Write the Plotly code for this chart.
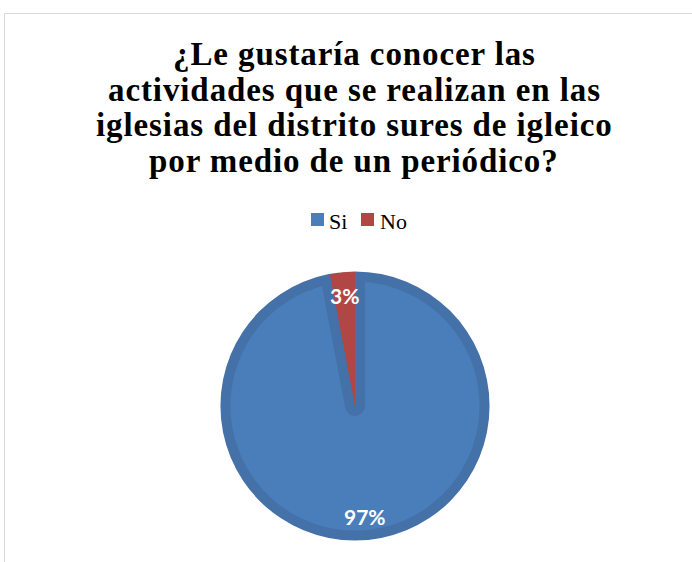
import math
import plotly.graph_objects as go

# ---- data ----
categories = ["Si", "No"]
values = [97, 3]
colors = ["#4a7ebb", "#b14744"]
band_color = "#4571a9"
title_lines = [
    "¿Le gustaría conocer las",
    "actividades que se realizan en las",
    "iglesias del distrito sures de igleico",
    "por medio de un periódico?",
]

W, H = 692, 562


def px(x):
    return x / W


def py(y):
    return 1 - y / H


# pie geometry (pixels)
cx, cy, R = 355, 406, 134.5
band = 10
ring = 14

fig = go.Figure()

# pie: Si with darker band (stroke); No drawn after it covers the stroke in its wedge
fig.add_trace(go.Pie(
    labels=categories, values=values, sort=False, direction="clockwise", rotation=0,
    marker=dict(colors=colors, line=dict(color=[band_color, colors[1]], width=[band * 2, 0])),
    textinfo="none", hoverinfo="label+percent", showlegend=False,
    domain=dict(x=[px(cx - R), px(cx + R)], y=[py(cy + R), py(cy - R)]),
))
# white ring masking the outer half of the stroke
fig.add_trace(go.Pie(
    labels=[""], values=[1], sort=False, hole=R / (R + ring),
    marker=dict(colors=["white"], line=dict(width=0)),
    textinfo="none", hoverinfo="skip", showlegend=False,
    domain=dict(x=[px(cx - R - ring), px(cx + R + ring)],
                y=[py(cy + R + ring), py(cy - R - ring)]),
))

annotations = []
# percentage labels, placed along each slice's mid angle
total = sum(values)
cum = 0
r_lab = 111
for v in values:
    th = 2 * math.pi * (cum + v / 2) / total
    cum += v
    lx = cx + r_lab * math.sin(th)
    ly = cy - r_lab * math.cos(th)
    annotations.append(dict(
        x=px(lx), y=py(ly), xref="paper", yref="paper", showarrow=False,
        xanchor="center", yanchor="middle",
        text=f"<b>{round(100 * v / total)}%</b>",
        font=dict(family="Lato", size=21, color="white"),
    ))

# title lines
fs = 33
base0, spacing = 65.5, 35.5
for i, line in enumerate(title_lines):
    b = base0 + i * spacing
    annotations.append(dict(
        x=px(354), y=py(b - 0.3375 * fs), xref="paper", yref="paper", showarrow=False,
        xanchor="center", yanchor="middle",
        text=f"<span style='letter-spacing:0.9px'><b>{line}</b></span>",
        font=dict(family="Liberation Serif", size=fs, color="black"),
    ))

# legend (keys + labels)
shapes = []
leg_keys_x = [311, 361]
leg_text_x = [327, 378]
leg_y_top, leg_size = 213, 13
for i, cat in enumerate(categories):
    shapes.append(dict(
        type="rect", xref="paper", yref="paper",
        x0=px(leg_keys_x[i]), x1=px(leg_keys_x[i] + leg_size),
        y0=py(leg_y_top + leg_size), y1=py(leg_y_top),
        fillcolor=colors[i], line=dict(width=0),
    ))
    annotations.append(dict(
        x=px(leg_text_x[i]), y=py(228.5 - 0.3375 * 22), xref="paper", yref="paper",
        showarrow=False, xanchor="left", yanchor="middle", text=cat,
        font=dict(family="Liberation Serif", size=22, color="black"),
    ))

# chart-area border (top and left edges visible)
shapes.append(dict(type="line", xref="paper", yref="paper",
                   x0=px(4.5), x1=1, y0=py(13.5), y1=py(13.5),
                   line=dict(color="#d9d9d9", width=1)))
shapes.append(dict(type="line", xref="paper", yref="paper",
                   x0=px(4.5), x1=px(4.5), y0=py(13.5), y1=0,
                   line=dict(color="#d9d9d9", width=1)))

fig.update_layout(
    width=W, height=H, margin=dict(l=0, r=0, t=0, b=0),
    paper_bgcolor="white", plot_bgcolor="white",
    annotations=annotations, shapes=shapes,
)

fig.write_html("out.html", config={"displayModeBar": False},
               post_script="document.body.style.margin='0px';")
